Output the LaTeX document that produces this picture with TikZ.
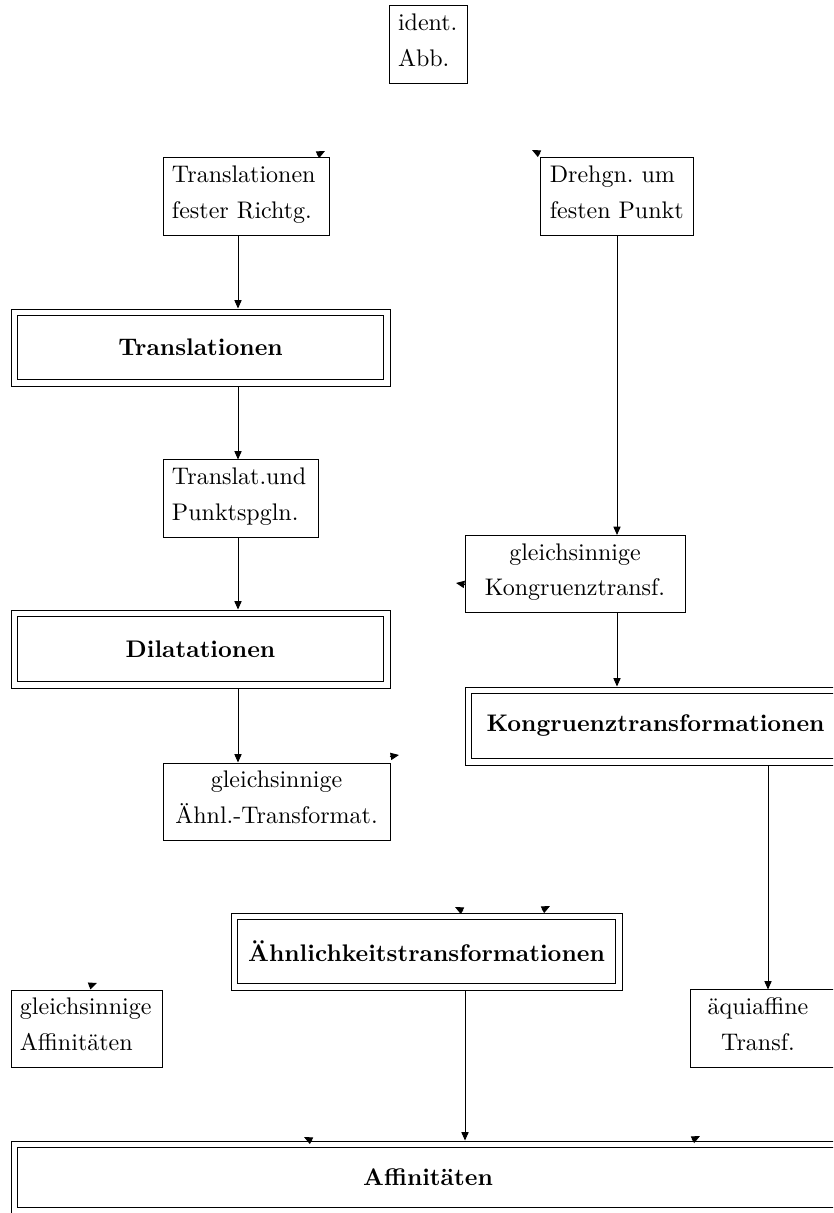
\documentclass[tikz,border=0pt]{standalone}
\usetikzlibrary{arrows.meta}
\newlength\pxu \setlength\pxu{0.41667pt}
\newcommand\tstr{\rule{0pt}{10.4pt}}
\newcommand\bstr{\rule[-6.9pt]{0pt}{6.9pt}}
\begin{document}
\begin{tikzpicture}[x=\pxu,y=-\pxu,
  every node/.style={font=\fontsize{10}{14.8}\selectfont},
  sbox/.style={draw, line width=0.4pt, inner xsep=3.75pt, inner ysep=0pt,
    minimum height=32.08pt, outer sep=0.2pt},
  tbox/.style={inner xsep=3.75pt, inner ysep=0pt, minimum height=32.08pt},
  dbox/.style={draw, line width=0.4pt, inner sep=0pt, outer sep=0.2pt, align=center,
    font=\bfseries\fontsize{10}{14.8}\selectfont},
  inner/.style={line width=0.4pt},
  arr/.style={-{Triangle[length=3.5pt,width=3pt]}, line width=0.4pt},
  tipm/.style={-{Triangle[length=3.5pt,width=3pt]}, line width=0.4pt}
]
\useasboundingbox (0,0) rectangle (833,1213);
\clip (0,0) rectangle (833,1213);

% single boxes
\node[sbox, text width=25pt, align=left] (id) at (428,44.5) {\tstr ident.\\Abb.\bstr};
\node[sbox, text width=61.67pt, align=left] (tfr) at (246,196.5) {\tstr Translationen\\fester Richtg.\bstr};
\node[sbox, text width=56pt, align=left] (dre) at (617,196.5) {\tstr Drehgn.\ um\\festen Punkt\bstr};
\node[sbox, text width=57.1pt, align=left] (tu) at (240.5,498.5) {\tstr Translat.und\\Punktspgln.\bstr};
\node[sbox, minimum width=91.67pt, minimum height=31.67pt, align=center] (gk) at (575,574) {\tstr gleichsinnige\\Kongruenztransf.\bstr};
\node[sbox, minimum width=94.58pt, align=center] (ga) at (276.5,801.5) {\tstr gleichsinnige\\Ähnl.-Transformat.\bstr};
\node[sbox, text width=55.42pt, align=left] (gaf) at (86.5,1028.5) {\tstr gleichsinnige\\Affinitäten\bstr};
\node[tbox, minimum width=55.83pt, align=center] (aq) at (758,1028.5) {\tstr äquiaffine\\Transf.\bstr};
\draw[line width=0.4pt] (aq.north west) rectangle ([xshift=8.33pt]aq.south east);

% double boxes (outer node + inner frame)
\node[dbox, minimum width=157.9pt, minimum height=32.08pt] (tr) at (200.5,347.5) {Translationen};
\node[dbox, minimum width=157.9pt, minimum height=32.5pt] (dil) at (200.5,649) {Dilatationen};
\node[dbox, minimum width=158.75pt, minimum height=32.5pt] (kt) at (655.5,726) {Kongruenztransformationen};
\node[dbox, minimum width=162.9pt, minimum height=32.08pt] (ae) at (426.5,951.5) {Ähnlichkeitstransformationen};
\node[dbox, minimum width=347.5pt, minimum height=30.4pt] (af) at (428,1177.5) {Affinitäten};
\foreach \n in {tr,dil,kt,ae,af}
  \draw[inner] ([shift={(2.92pt,-2.92pt)}]\n.north west) rectangle ([shift={(-2.92pt,2.92pt)}]\n.south east);

% columns
\coordinate (cL) at (238,0);
\coordinate (cR) at (617,0);
\coordinate (cK) at (768,0);
\coordinate (cA) at (465,0);

% connectors
\draw[arr] (tfr.south -| cL) -- (tr.north -| cL);
\draw[arr] (tr.south -| cL) -- (tu.north -| cL);
\draw[arr] (tu.south -| cL) -- (dil.north -| cL);
\draw[arr] (dil.south -| cL) -- (ga.north -| cL);
\draw[arr] (dre.south -| cR) -- (gk.north -| cR);
\draw[arr] (gk.south -| cR) -- (kt.north -| cR);
\draw[arr] (kt.south -| cK) -- (aq.north -| cK);
\draw[arr] (ae.south -| cA) -- (af.north -| cA);

% stray arrow tips
\coordinate (t1) at (325,151);
\coordinate (t2) at (532,150);
\coordinate (t3) at (456,583);
\coordinate (t4) at (399,755);
\coordinate (t5) at (455,907);
\coordinate (t6) at (550,906);
\coordinate (t7) at (97,983);
\coordinate (t8) at (304,1137);
\coordinate (t9) at (700,1136);
\draw[tipm] (t1) ++(-8,4) -- (t1);
\draw[tipm] (t2) ++(8,4) -- (t2);
\draw[tipm] (t3) ++(9,1.5) -- (t3);
\draw[tipm] (t4) ++(-9,1.5) -- (t4);
\draw[tipm] (t5) ++(8,4) -- (t5);
\draw[tipm] (t6) ++(-8,4) -- (t6);
\draw[tipm] (t7) ++(-8,3) -- (t7);
\draw[tipm] (t8) ++(8,4) -- (t8);
\draw[tipm] (t9) ++(-8,4) -- (t9);
\end{tikzpicture}
\end{document}
